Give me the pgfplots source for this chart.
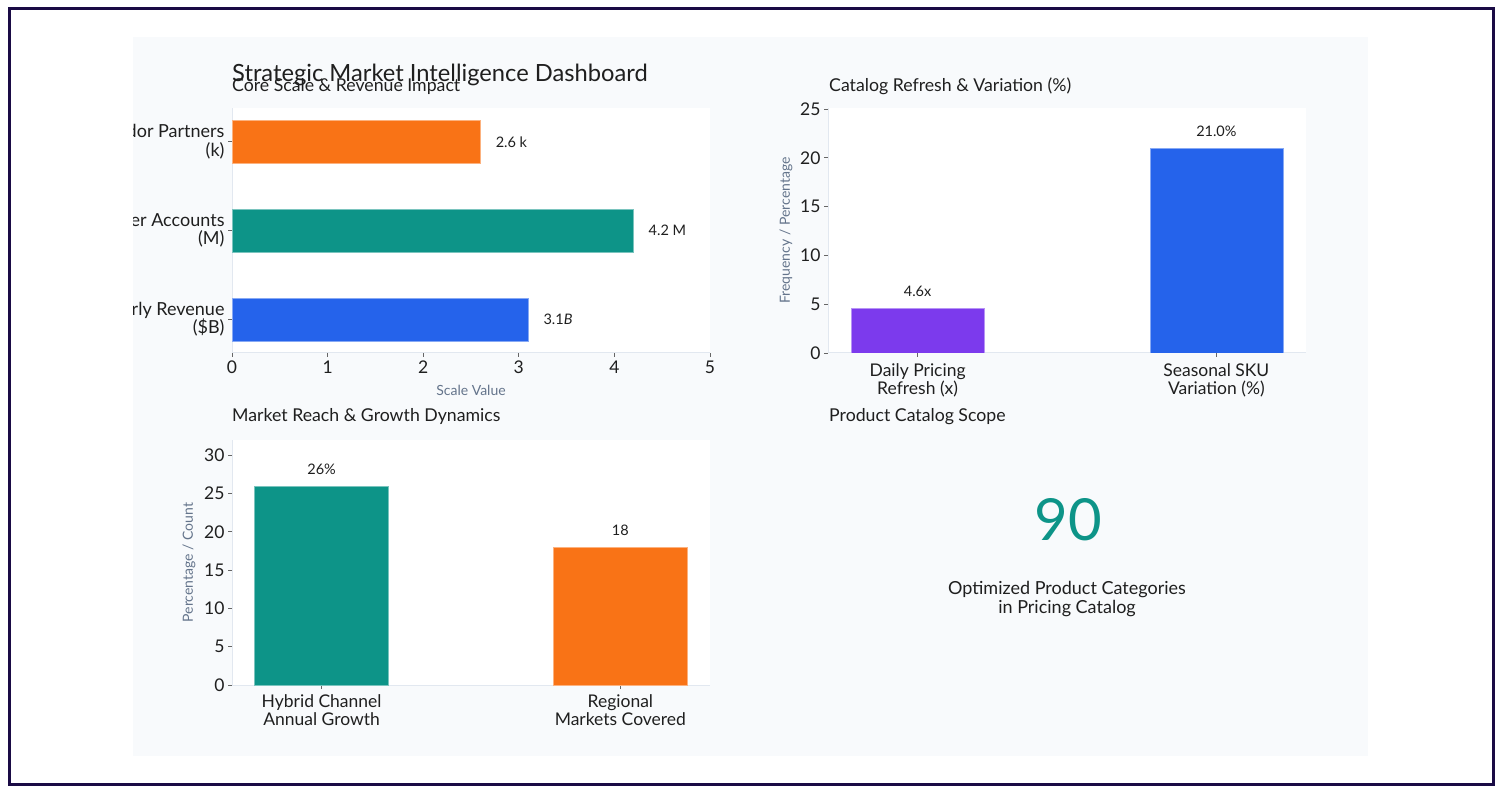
\documentclass[border=0pt]{standalone}
\usepackage{fontspec}
\setmainfont{Lato}
\usepackage{pgfplots}
\pgfplotsset{compat=1.18}
\definecolor{cOrange}{HTML}{F97316}
\definecolor{cTeal}{HTML}{0D9488}
\definecolor{cBlue}{HTML}{2563EB}
\definecolor{cPurple}{HTML}{7C3AED}
\definecolor{cText}{HTML}{1F1F1F}
\definecolor{cLabel}{HTML}{64748B}
\definecolor{cAxis}{HTML}{E2E8F0}
\definecolor{cPanel}{HTML}{F8FAFC}
\definecolor{cFrame}{HTML}{1A0B45}
\definecolor{cTick}{HTML}{666666}
\newcommand{\fs}[2]{\fontsize{#1}{#2}\selectfont}
\pgfplotsset{dash/.style={
  scale only axis, anchor=south west,
  axis background/.style={fill=white},
  axis x line*=bottom, axis y line*=left,
  axis line style={draw=cAxis, line width=1pt},
  tick align=outside, major tick length=4pt,
  tick style={draw=cTick, line width=0.8pt},
  ticklabel style={font=\fs{17.5}{19}, text=cText},
  /pgf/number format/assume math mode=true,
  label style={font=\fs{14}{16}, text=cLabel},
  nodes near coords, point meta=explicit symbolic,
  nodes near coords style={font=\fs{14.5}{16}, text=cText, inner sep=0pt},
}}
\begin{document}
\begin{tikzpicture}
% background and frame
\fill[white] (0pt,0pt) rectangle (1503pt,793pt);
\draw[cFrame, line width=3pt] (9.5pt,8.5pt) rectangle (1493.5pt,784.5pt);
\fill[cPanel] (133pt,37pt) rectangle (1368pt,756pt);

% top-left: horizontal bars
\begin{scope}
\clip (133pt,37pt) rectangle (1368pt,756pt);
\begin{axis}[dash, at={(232pt,440pt)}, width=478pt, height=245pt,
  xbar, xmin=0, xmax=5, ymin=-0.38, ymax=2.38,
  xtick={0,1,2,3,4,5},
  ytick={0,1,2},
  yticklabels={{Quarterly Revenue\\(\$B)},{Customer Accounts\\(M)},{Vendor Partners\\(k)}},
  yticklabel style={align=right, font=\fs{18}{18.5}},
  xlabel={Scale Value},
  xlabel style={at={(axis description cs:0.5,-0.151)}, anchor=center},
  nodes near coords style={anchor=west, xshift=15pt}]
\addplot[xbar, bar width=43pt, bar shift=0pt, fill=cBlue, draw=cBlue!55!white] coordinates {(3.1,0) [3.1\textit{B}]};
\addplot[xbar, bar width=43pt, bar shift=0pt, fill=cTeal, draw=cTeal!55!white] coordinates {(4.2,1) [4.2 M]};
\addplot[xbar, bar width=43pt, bar shift=0pt, fill=cOrange, draw=cOrange!55!white] coordinates {(2.6,2) [2.6 k]};
\end{axis}
\end{scope}

% top-right: vertical bars
\begin{axis}[dash, at={(828pt,440pt)}, width=478pt, height=245pt,
  ybar, xmin=-0.3, xmax=1.3, ymin=0, ymax=25.1,
  xtick={0,1}, xticklabels={{Daily Pricing\\Refresh (x)},{Seasonal SKU\\Variation (\%)}},
  xticklabel style={align=center, font=\fs{17.5}{18}, yshift=-3pt},
  ytick={0,5,10,15,20,25},
  ylabel={Frequency / Percentage},
  ylabel style={at={(axis description cs:-0.088,0.5)}, anchor=center},
  nodes near coords style={anchor=south, yshift=11pt}]
\addplot[ybar, bar width=133pt, bar shift=0pt, fill=cPurple, draw=cPurple!55!white] coordinates {(0,4.6) [4.6x]};
\addplot[ybar, bar width=133pt, bar shift=0pt, fill=cBlue, draw=cBlue!55!white] coordinates {(1,21.0) [21.0\%]};
\end{axis}

% bottom-left: vertical bars
\begin{axis}[dash, at={(232pt,108pt)}, width=478pt, height=245pt,
  ybar, xmin=-0.3, xmax=1.3, ymin=0, ymax=32,
  xtick={0,1}, xticklabels={{Hybrid Channel\\Annual Growth},{Regional\\Markets Covered}},
  xticklabel style={align=center, font=\fs{17.5}{18}, yshift=-2pt},
  ytick={0,5,10,15,20,25,30},
  ylabel={Percentage / Count},
  ylabel style={at={(axis description cs:-0.09,0.5)}, anchor=center},
  nodes near coords style={anchor=south, yshift=11pt}]
\addplot[ybar, bar width=134pt, bar shift=0pt, fill=cTeal, draw=cTeal!55!white] coordinates {(0,26) [26\%]};
\addplot[ybar, bar width=134pt, bar shift=0pt, fill=cOrange, draw=cOrange!55!white] coordinates {(1,18) [18]};
\end{axis}

% titles
\node[anchor=base west, inner sep=0pt, text=cText, font=\fs{23.7}{26}] at (232pt,711pt) {Strategic Market Intelligence Dashboard};
\node[anchor=base west, inner sep=0pt, text=cText, font=\fs{17.7}{19}] at (232pt,701pt) {Core Scale \& Revenue Impact};
\node[anchor=base west, inner sep=0pt, text=cText, font=\fs{17.7}{19}] at (829pt,701pt) {Catalog Refresh \& Variation (\%)};
\node[anchor=base west, inner sep=0pt, text=cText, font=\fs{17.7}{19}] at (232pt,371pt) {Market Reach \& Growth Dynamics};
\node[anchor=base west, inner sep=0pt, text=cText, font=\fs{17.7}{19}] at (829pt,371pt) {Product Catalog Scope};

% KPI
\node[anchor=base, inner sep=0pt, text=cTeal, font=\fs{58}{60}] at (1068pt,253pt) {90};
\node[anchor=base, inner sep=0pt, text=cText, font=\fs{18}{19}] at (1067pt,199pt) {Optimized Product Categories};
\node[anchor=base, inner sep=0pt, text=cText, font=\fs{18}{19}] at (1067pt,180pt) {in Pricing Catalog};
\end{tikzpicture}
\end{document}
